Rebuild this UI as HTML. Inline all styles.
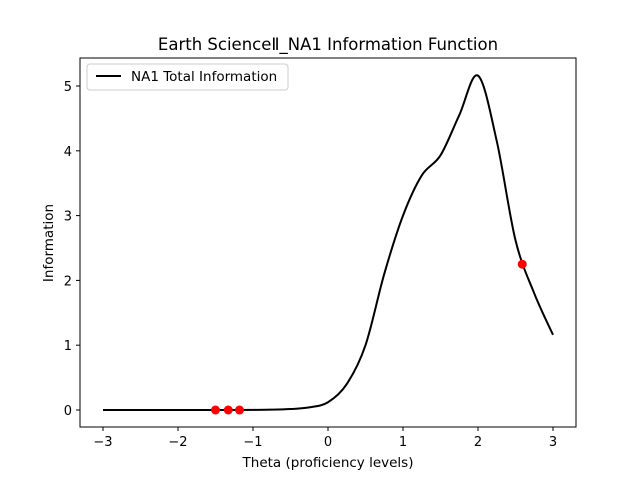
<!DOCTYPE html>
<html><head><meta charset="utf-8"><style>
body{margin:0;background:#fff}
svg{font-family:"DejaVu Sans","Liberation Sans",sans-serif}
</style></head><body>
<script>
const thetas=[-3,-2.75,-2.5,-2.25,-2,-1.75,-1.5,-1.25,-1,-0.75,-0.5,-0.25,0,0.25,0.5,0.75,1,1.25,1.5,1.75,2,2.25,2.5,2.75,3];
const infos=[0,0,0,0,0,0,0,0,0.002,0.005,0.015,0.04,0.12,0.4,1.0,2.1,3.0,3.62,3.93,4.55,5.16,4.15,2.62,1.8,1.16];
const ptsX=[-1.5,-1.33,-1.18,2.59];
const ptsY=[0,0,0,2.25];
const xTicks=[-3,-2,-1,0,1,2,3];
const yTicks=[0,1,2,3,4,5];
</script>
<svg width="640" height="480">
<rect x="80" y="58" width="496" height="369" fill="#fff" stroke="#000" stroke-width="1"/>
<g id="ax"></g>
<text x="328" y="50" text-anchor="middle" font-size="16.5">Earth ScienceⅡ_NA1 Information Function</text>
<text x="328" y="467" text-anchor="middle" font-size="13.5">Theta (proficiency levels)</text>
<text x="0" y="0" transform="translate(53,243) rotate(-90)" text-anchor="middle" font-size="13.5">Information</text>
<g>
<rect x="87" y="64" width="201" height="26" rx="3" fill="#fff" stroke="#ccc"/>
<line x1="96" y1="76" x2="121" y2="76" stroke="#000" stroke-width="2"/>
<text x="131" y="81" font-size="13.5">NA1 Total Information</text>
</g>
</svg>
<script>
const sx=v=>328+75*v, sy=v=>410-64.8*v;
const g=document.getElementById('ax');
const NS='http://www.w3.org/2000/svg';
function mk(t,a){const e=document.createElementNS(NS,t);for(const k in a)e.setAttribute(k,a[k]);g.appendChild(e);return e;}
xTicks.forEach(t=>{
 const l=mk('line',{x1:sx(t),x2:sx(t),y1:427,y2:431,stroke:'#000'});
 
 
 const tx=mk('text',{x:sx(t),y:446,'text-anchor':'middle','font-size':'13'});
 tx.textContent=(t<0?'−'+(-t):t);
 
 
});
yTicks.forEach(t=>{
 const l=mk('line',{x1:76,x2:80,y1:sy(t),y2:sy(t),stroke:'#000'});
 
 
 const tx=mk('text',{x:72,y:sy(t)+5,'text-anchor':'end','font-size':'13'});
 tx.textContent=t;
 
 
});
const P=thetas.map((t,i)=>[sx(t),sy(infos[i])]);
let d='M'+P[0][0]+','+P[0][1];
for(let i=0;i<P.length-1;i++){
 const p0=P[Math.max(0,i-1)],p1=P[i],p2=P[i+1],p3=P[Math.min(P.length-1,i+2)];
 const c1=[p1[0]+(p2[0]-p0[0])/6,p1[1]+(p2[1]-p0[1])/6];
 const c2=[p2[0]-(p3[0]-p1[0])/6,p2[1]-(p3[1]-p1[1])/6];
 d+=`C${c1[0]},${c1[1]} ${c2[0]},${c2[1]} ${p2[0]},${p2[1]}`;
}
const path=mk('path',{d:d,fill:'none',stroke:'#000','stroke-width':2});


ptsX.forEach((x,i)=>{
 const c=mk('circle',{cx:sx(x),cy:sy(ptsY[i]),r:4.5,fill:'red'});
 
 
});
</script>
</body></html>
